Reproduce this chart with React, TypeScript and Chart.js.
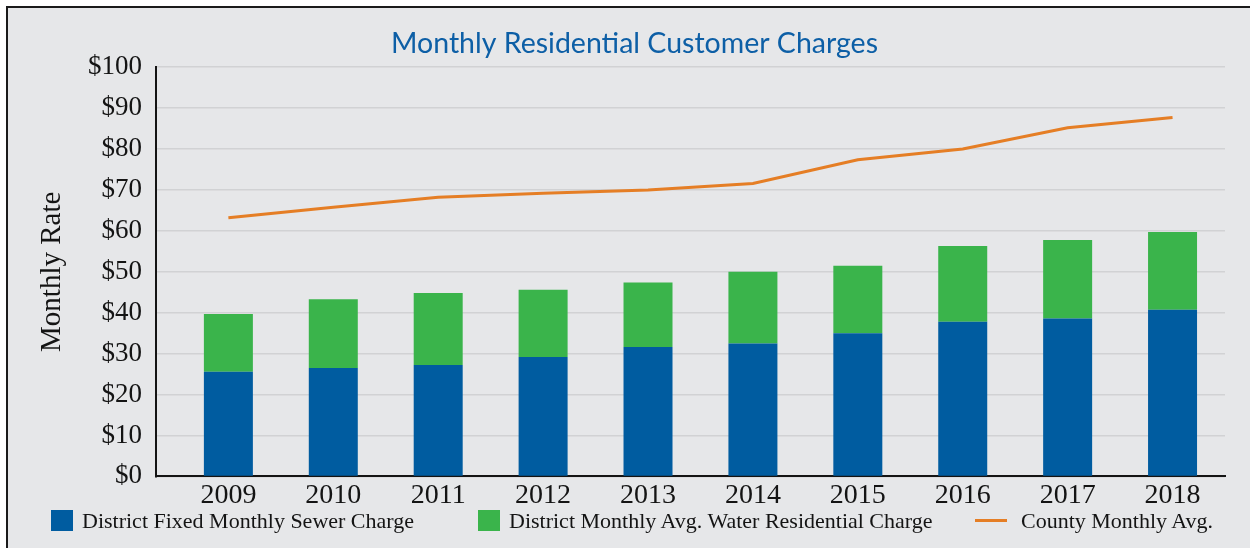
import React, { useEffect, useRef } from 'react';
import { Chart, registerables } from 'chart.js';

Chart.register(...registerables);

// ---- data ----
const years = [2009, 2010, 2011, 2012, 2013, 2014, 2015, 2016, 2017, 2018];
const sewerCharge = [25.6, 26.5, 27.2, 29.2, 31.6, 32.5, 35.0, 37.8, 38.6, 40.7];
const waterCharge = [14.1, 16.8, 17.6, 16.4, 15.8, 17.5, 16.5, 18.5, 19.2, 19.0];
const countyAvg = [63.2, 65.8, 68.2, 69.2, 70.0, 71.6, 77.4, 80.0, 85.2, 87.7];
const yTicks = [0, 10, 20, 30, 40, 50, 60, 70, 80, 90, 100];
const seriesLabels = [
  'District Fixed Monthly Sewer Charge',
  'District Monthly Avg. Water Residential Charge',
  'County Monthly Avg.',
];

const BLUE = '#005ca0';
const GREEN = '#3ab44b';
const ORANGE = '#e57e25';
const TITLE_BLUE = '#0d5fa6';
const INK = '#141414';
const SERIF = '"Liberation Serif", "Times New Roman", serif';

const legendItems = [
  { label: seriesLabels[0], color: BLUE, kind: 'box', left: 43 },
  { label: seriesLabels[1], color: GREEN, kind: 'box', left: 470 },
  { label: seriesLabels[2], color: ORANGE, kind: 'line', left: 967 },
];

export default function App() {
  const canvasRef = useRef<HTMLCanvasElement | null>(null);

  useEffect(() => {
    const canvas = canvasRef.current;
    if (!canvas) return;
    const chart = new Chart(canvas, {
      type: 'bar',
      data: {
        datasets: [
          {
            type: 'line',
            label: seriesLabels[2],
            data: years.map((x, i) => ({ x, y: countyAvg[i] })),
            borderColor: ORANGE,
            backgroundColor: ORANGE,
            borderWidth: 3,
            pointRadius: 0,
            tension: 0,
            stack: 'county',
            order: 0,
          } as any,
          {
            type: 'bar',
            label: seriesLabels[0],
            data: years.map((x, i) => ({ x, y: sewerCharge[i] })),
            backgroundColor: BLUE,
            stack: 'district',
            barPercentage: 0.467,
            categoryPercentage: 1,
            order: 1,
          } as any,
          {
            type: 'bar',
            label: seriesLabels[1],
            data: years.map((x, i) => ({ x, y: waterCharge[i] })),
            backgroundColor: GREEN,
            stack: 'district',
            barPercentage: 0.467,
            categoryPercentage: 1,
            order: 1,
          } as any,
        ],
      },
      options: {
        animation: false,
        responsive: false,
        layout: { padding: { left: 36, right: 25, top: 0, bottom: 42 } },
        plugins: {
          legend: { display: false },
          tooltip: { enabled: false },
          title: {
            display: true,
            text: 'Monthly Residential Customer Charges',
            color: TITLE_BLUE,
            font: { family: 'Lato, "Noto Sans", sans-serif', size: 28.5, weight: 'normal' },
            padding: { top: 19, bottom: 6 },
          },
        },
        scales: {
          x: {
            type: 'linear',
            offset: false,
            min: 2008.31,
            max: 2018.5,
            stacked: true,
            grid: { display: false },
            border: { display: true, color: INK, width: 2 },
            afterBuildTicks: (s: any) => {
              s.ticks = years.map((v) => ({ value: v }));
            },
            ticks: {
              color: INK,
              font: { family: SERIF, size: 28 },
              padding: -6,
              autoSkip: false,
              maxRotation: 0,
              callback: (v: any) => String(v),
            },
          },
          y: {
            stacked: true,
            min: 0,
            max: 100,
            afterBuildTicks: (s: any) => {
              s.ticks = yTicks.map((v) => ({ value: v }));
            },
            afterFit: (s: any) => {
              s.width = 112;
            },
            grid: { color: '#d1d2d4', lineWidth: 1.5, drawTicks: false },
            border: { display: true, color: INK, width: 2 },
            ticks: {
              color: INK,
              padding: 14,
              font: { family: SERIF, size: 27 },
              callback: (v: any) => '$' + v,
            },
            title: {
              display: true,
              text: 'Monthly Rate',
              color: INK,
              font: { family: SERIF, size: 29 },
              padding: { top: -9, bottom: 0 },
            },
          },
        },
      } as any,
    });
    return () => chart.destroy();
  }, []);

  return (
    <div style={{ position: 'absolute', left: 0, top: 0, width: 1250, height: 548, background: '#ffffff', overflow: 'hidden' }}>
      <div
        style={{
          position: 'absolute',
          left: 6,
          top: 6,
          width: 1244,
          height: 542,
          boxSizing: 'border-box',
          background: '#e6e7e9',
          borderLeft: '2px solid #1a1a1a',
          borderTop: '2px solid #1a1a1a',
        }}
      >
        <canvas ref={canvasRef} width={1242} height={540} style={{ position: 'absolute', left: 0, top: 0, display: 'block' }} />
        {legendItems.map((it) => (
          <div
            key={it.label}
            style={{
              position: 'absolute',
              left: it.left,
              top: 500,
              height: 25,
              display: 'flex',
              alignItems: 'center',
              fontFamily: SERIF,
              fontSize: 22,
              color: INK,
              whiteSpace: 'nowrap',
            }}
          >
            {it.kind === 'box' ? (
              <span style={{ display: 'inline-block', width: 22, height: 21, background: it.color, marginRight: 9 }} />
            ) : (
              <span style={{ display: 'inline-block', width: 32, height: 3, background: it.color, marginRight: 14 }} />
            )}
            <span>{it.label}</span>
          </div>
        ))}
      </div>
    </div>
  );
}
